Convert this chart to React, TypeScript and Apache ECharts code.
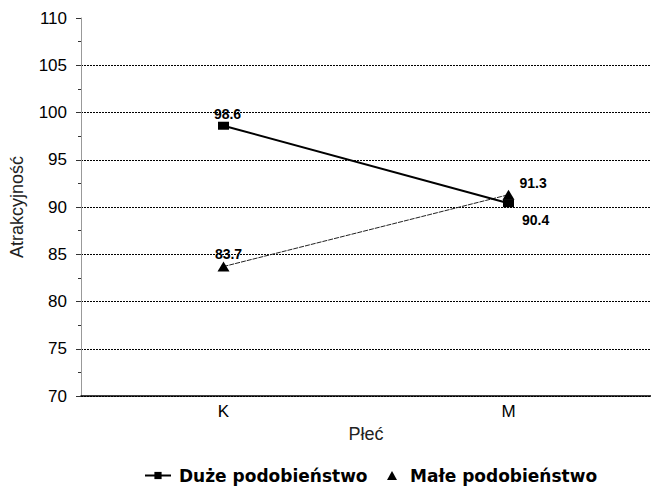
import React, { useEffect, useRef } from "react";
import * as echarts from "echarts";

const categories = ["K", "M"];
const duzeValues = [98.6, 90.4];
const maleValues = [83.7, 91.3];
const seriesNames = ["Duże podobieństwo", "Małe podobieństwo"];
const yAxisTitle = "Atrakcyjność";
const xAxisTitle = "Płeć";

const FONT = "'Liberation Sans', Arial, sans-serif";
const LEGEND_FONT = "'DejaVu Sans', sans-serif";

export default function App() {
  const ref = useRef<HTMLDivElement>(null);
  useEffect(() => {
    if (!ref.current) return;
    const chart = echarts.init(ref.current, null, { renderer: "svg" });
    const lbl = { show: true, fontFamily: FONT, fontWeight: "bold", fontSize: 14, color: "#000" };
    const legendText = { fontFamily: LEGEND_FONT, fontWeight: "bold", fontSize: 17, color: "#000" };
    chart.setOption({
      animation: false,
      backgroundColor: "#fff",
      grid: { left: 81, top: 18, width: 580, height: 378, containLabel: false },
      legend: [
        {
          top: 462,
          left: 139,
          itemWidth: 26,
          itemHeight: 9,
          textStyle: { ...legendText, padding: [0, 0, 0, 3] },
          data: [{ name: seriesNames[0] }],
        },
        {
          top: 462,
          left: 382,
          itemWidth: 10,
          itemHeight: 9,
          textStyle: { ...legendText, padding: [0, 0, 0, 8] },
          data: [{ name: seriesNames[1], icon: "triangle", itemStyle: { color: "#000" } }],
        },
      ],
      xAxis: {
        type: "category",
        data: categories,
        boundaryGap: true,
        name: xAxisTitle,
        nameLocation: "middle",
        nameGap: 25,
        nameTextStyle: { fontFamily: FONT, fontSize: 18, color: "#222" },
        axisLine: { lineStyle: { color: "#000", width: 1.5 } },
        axisTick: { alignWithLabel: true, length: 6, lineStyle: { color: "#555" } },
        axisLabel: { fontFamily: FONT, fontSize: 17, color: "#000", margin: 7 },
        splitLine: { show: false },
      },
      yAxis: {
        type: "value",
        min: 70,
        max: 110,
        interval: 5,
        name: yAxisTitle,
        nameLocation: "middle",
        nameGap: 55,
        nameTextStyle: { fontFamily: FONT, fontSize: 18, color: "#222" },
        axisLine: { show: true, lineStyle: { color: "#999", width: 1 } },
        axisTick: { show: true, length: 5, lineStyle: { color: "#333" } },
        minorTick: { show: true, splitNumber: 2, length: 3, lineStyle: { color: "#333" } },
        axisLabel: { fontFamily: FONT, fontSize: 17, color: "#000", margin: 14 },
        splitLine: {
          show: true,
          showMaxLine: false,
          lineStyle: { color: "#000", type: [2, 1], width: 1 },
        },
      },
      series: [
        {
          name: seriesNames[0],
          type: "line",
          data: [
            { value: duzeValues[0], label: { ...lbl, position: "top", distance: 1, offset: [4, 0] } },
            { value: duzeValues[1], label: { ...lbl, position: "right", offset: [3, 17] } },
          ],
          symbol: "rect",
          symbolSize: [11, 8],
          itemStyle: { color: "#000" },
          lineStyle: { color: "#000", width: 2 },
          z: 3,
        },
        {
          name: seriesNames[1],
          type: "line",
          data: [
            { value: maleValues[0], label: { ...lbl, position: "top", distance: 1, offset: [5, 0] } },
            { value: maleValues[1], label: { ...lbl, position: "right", offset: [0, -12] } },
          ],
          symbol: "triangle",
          symbolSize: [12, 10],
          itemStyle: { color: "#000" },
          lineStyle: { color: "#222", width: 1, type: [5, 1] },
          z: 2,
        },
      ],
    });
    return () => chart.dispose();
  }, []);
  return (
    <div
      ref={ref}
      style={{ position: "fixed", left: 0, top: 0, width: 651, height: 493, background: "#fff" }}
    />
  );
}
